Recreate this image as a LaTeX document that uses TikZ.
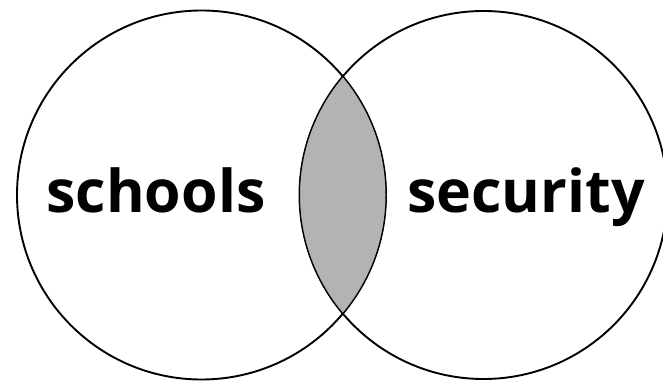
\documentclass[tikz,border=0pt]{standalone}
\usepackage{fontspec}
\setmainfont{Open Sans}
\definecolor{lensgray}{RGB}{179,179,179}
\begin{document}
\begin{tikzpicture}[x=1pt,y=1pt,
  ring/.style={draw=black,line width=1.9pt},
  word/.style={font=\bfseries\fontsize{59}{59}\selectfont,anchor=base,inner sep=0pt}]
\clip (0,0) rectangle (663,383);
\useasboundingbox (0,0) rectangle (663,383);
\coordinate (cl) at (201.5,188);
\coordinate (cr) at (483.5,188);
\draw[ring] (cl) circle[radius=184.5];
\draw[ring] (cr) circle[radius=184];
\begin{scope}
  \clip (cl) circle[radius=184.5];
  \fill[lensgray] (cr) circle[radius=184];
\end{scope}
\begin{scope}
  \clip (cl) circle[radius=184.5];
  \draw[line width=1pt] (cr) circle[radius=184];
\end{scope}
\begin{scope}
  \clip (cr) circle[radius=184];
  \draw[line width=1pt] (cl) circle[radius=184.5];
\end{scope}
\node[word] (schools) at (156,170) {schools};
\node[word] (security) at (526,170) {security};
\end{tikzpicture}
\end{document}
